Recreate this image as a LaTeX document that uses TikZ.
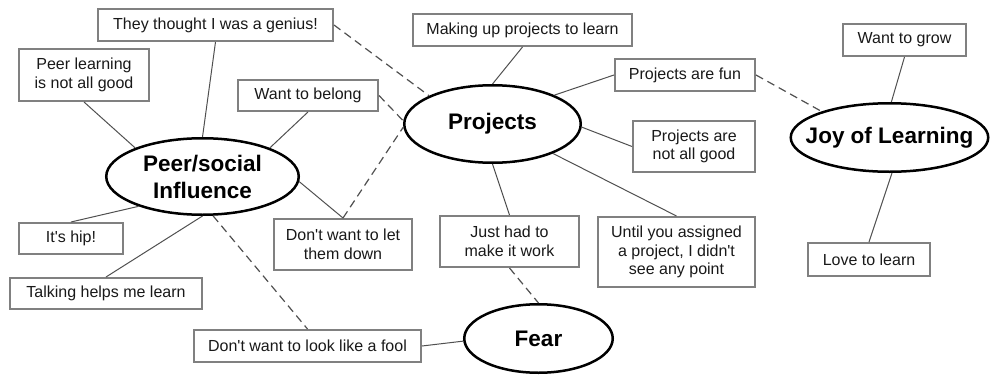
\documentclass[tikz,border=0pt]{standalone}
\usepackage{fontspec}
\newfontfamily\arialf{Liberation Sans}
\usetikzlibrary{shapes.geometric}
\definecolor{boxgray}{RGB}{128,128,128}
\definecolor{linegray}{RGB}{80,80,80}
\begin{document}
\begin{tikzpicture}[x=1pt,y=-1pt, font=\arialf,
 box/.style={draw=boxgray, line width=2pt, inner sep=0pt, align=center, font=\arialf\fontsize{16}{18.5}\selectfont, text=black!90, fill=white},
 oval/.style={ellipse, draw=black, line width=2.5pt, inner sep=0pt, fill=white},
 olab/.style={font=\arialf\bfseries\fontsize{22.5}{27}\selectfont, align=center},
 conn/.style={draw=linegray, line width=1pt},
 dconn/.style={draw=linegray, line width=1.2pt, dash pattern=on 8pt off 5pt}]
\useasboundingbox (0,0) rectangle (991,375);

% boxes
\node[box, minimum width=235pt, minimum height=32pt] (genius) at (215.5,25) {They thought I was a genius!};
\node[box, minimum width=130pt, minimum height=52pt] (peerlearn) at (84,75) {Peer learning\\is not all good};
\node[box, minimum width=140pt, minimum height=31pt] (belong) at (308,95.5) {Want to belong};
\node[box, minimum width=219pt, minimum height=32pt] (making) at (522.5,30) {Making up projects to learn};
\node[box, minimum width=140pt, minimum height=32pt] (fun) at (685,75) {Projects are fun};
\node[box, minimum width=122pt, minimum height=51pt] (notgood) at (694,146.5) {Projects are\\not all good};
\node[box, minimum width=123pt, minimum height=32pt] (grow) at (904.5,40) {Want to grow};
\node[box, minimum width=122pt, minimum height=33pt] (love) at (869,259.5) {Love to learn};
\node[box, minimum width=157pt, minimum height=70pt] (until) at (676.5,252) {Until you assigned\\a project, I didn't\\see any point};
\node[box, minimum width=139pt, minimum height=51pt] (just) at (509.5,241.5) {Just had to\\make it work};
\node[box, minimum width=138pt, minimum height=51pt] (letdown) at (343,244.5) {Don't want to let\\them down};
\node[box, minimum width=104pt, minimum height=31pt] (hip) at (71,238.5) {It's hip!};
\node[box, minimum width=192pt, minimum height=31pt] (talking) at (106,293.5) {Talking helps me learn};
\node[box, minimum width=227pt, minimum height=32pt] (fool) at (307.5,346) {Don't want to look like a fool};

% ellipses
\node[oval, minimum width=192.5pt, minimum height=76.5pt, label={[olab]center:{Peer/social\\Influence}}] (peer) at (202.5,176.5) {};
\node[oval, minimum width=176.5pt, minimum height=77.5pt, label={[olab]center:Projects}] (proj) at (492.5,124) {};
\node[oval, minimum width=197.5pt, minimum height=68.5pt, label={[olab]center:Joy of Learning}] (joy) at (889.5,137.5) {};
\node[oval, minimum width=148.5pt, minimum height=68.5pt, label={[olab]center:Fear}] (fear) at (538.5,338.5) {};

% solid connectors
\draw[conn] (genius.south) -- (peer.north);
\draw[conn] (peerlearn.south) -- (peer.157);
\draw[conn] (belong.south) -- (peer.23);
\draw[conn] (peer.-3) -- (letdown.north);
\draw[conn] (peer.205) -- (hip.north);
\draw[conn] (peer.south) -- (talking.north);
\draw[conn] (fool.east) -- (fear.182);
\draw[conn] (proj.north) -- (making.south);
\draw[conn] (proj.25) -- (fun.west);
\draw[conn] (proj.-2) -- (notgood.west);
\draw[conn] (proj.south) -- (just.north);
\draw[conn] (proj.-26) -- (until.north);
\draw[conn] (joy.87) -- (grow.south);
\draw[conn] (joy.-86) -- (love.north);

% dashed connectors
\draw[dconn] (genius.east) -- (proj.156);
\draw[dconn] (belong.east) -- (proj.178);
\draw[dconn] (letdown.north) -- (proj.182);
\draw[dconn] (peer.-75) -- (fool.north);
\draw[dconn] (just.south) -- (fear.north);
\draw[dconn] (fun.east) -- (joy.159);
\end{tikzpicture}
\end{document}
